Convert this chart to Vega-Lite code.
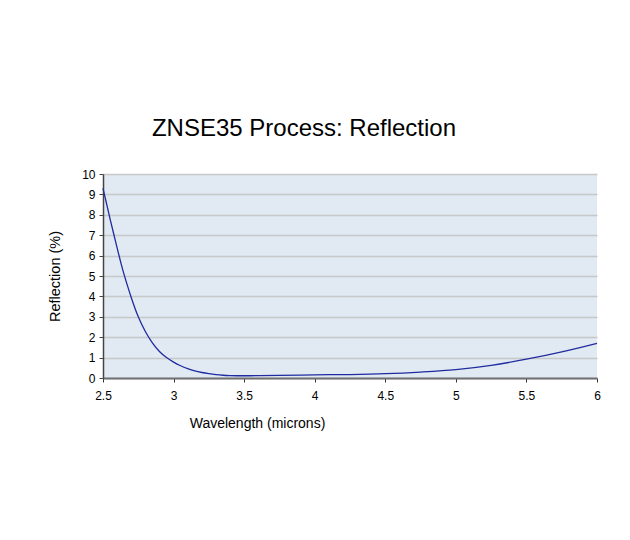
{
  "$schema": "https://vega.github.io/schema/vega-lite/v6.json",
  "width": 494,
  "height": 204,
  "autosize": "none",
  "padding": {"left": 103, "top": 174, "right": 33, "bottom": 162},
  "background": "white",
  "title": {
    "text": "ZNSE35 Process: Reflection",
    "font": "Liberation Sans",
    "fontSize": 24,
    "fontWeight": "normal",
    "color": "#000000",
    "anchor": "middle",
    "dx": -46,
    "offset": 27
  },
  "config": {
    "view": {"fill": "#e1e9f3", "stroke": null},
    "font": "Liberation Sans"
  },
  "data": {
    "values": [
      {"w": 2.50, "r": 9.3},
      {"w": 2.52, "r": 8.7},
      {"w": 2.55, "r": 7.8},
      {"w": 2.58, "r": 6.95},
      {"w": 2.61, "r": 6.1},
      {"w": 2.64, "r": 5.3},
      {"w": 2.67, "r": 4.6},
      {"w": 2.70, "r": 3.95},
      {"w": 2.75, "r": 3.0},
      {"w": 2.80, "r": 2.28},
      {"w": 2.85, "r": 1.72},
      {"w": 2.90, "r": 1.3},
      {"w": 2.95, "r": 1.0},
      {"w": 3.00, "r": 0.78},
      {"w": 3.05, "r": 0.6},
      {"w": 3.10, "r": 0.46},
      {"w": 3.15, "r": 0.35},
      {"w": 3.20, "r": 0.27},
      {"w": 3.25, "r": 0.21},
      {"w": 3.30, "r": 0.165},
      {"w": 3.35, "r": 0.135},
      {"w": 3.40, "r": 0.12},
      {"w": 3.50, "r": 0.11},
      {"w": 3.60, "r": 0.115},
      {"w": 3.75, "r": 0.13},
      {"w": 4.00, "r": 0.155},
      {"w": 4.25, "r": 0.17},
      {"w": 4.50, "r": 0.21},
      {"w": 4.75, "r": 0.29},
      {"w": 5.00, "r": 0.41},
      {"w": 5.25, "r": 0.62},
      {"w": 5.50, "r": 0.92},
      {"w": 5.75, "r": 1.28},
      {"w": 6.00, "r": 1.7}
    ]
  },
  "mark": {"type": "line", "color": "#1f2b9e", "strokeWidth": 1.3, "interpolate": "monotone"},
  "encoding": {
    "x": {
      "field": "w",
      "type": "quantitative",
      "scale": {"domain": [2.5, 6], "nice": false, "zero": false},
      "axis": {
        "title": "Wavelength (microns)",
        "values": [2.5, 3, 3.5, 4, 4.5, 5, 5.5, 6],
        "format": "~g",
        "grid": false,
        "domainColor": "#707070",
        "domainWidth": 2,
        "tickColor": "#333333",
        "tickSize": 4,
        "labelFontSize": 12,
        "labelColor": "#000000",
        "labelPadding": 8,
        "labelFlush": false,
        "titleFontSize": 14,
        "titleFontWeight": "normal",
        "titleColor": "#000000",
        "titleX": 154,
        "titleY": 38,
        "titleBaseline": "top"
      }
    },
    "y": {
      "field": "r",
      "type": "quantitative",
      "scale": {"domain": [0, 10], "nice": false},
      "axis": {
        "title": "Reflection (%)",
        "values": [0, 1, 2, 3, 4, 5, 6, 7, 8, 9, 10],
        "grid": true,
        "gridColor": "#c8c8c8",
        "gridWidth": 1.5,
        "domainColor": "#444444",
        "domainWidth": 1.5,
        "tickColor": "#444444",
        "tickSize": 4,
        "labelFontSize": 12,
        "labelColor": "#000000",
        "labelPadding": 4,
        "titleFontSize": 14.5,
        "titleFontWeight": "normal",
        "titleColor": "#000000",
        "titleX": -41,
        "titleY": 102
      }
    }
  }
}
